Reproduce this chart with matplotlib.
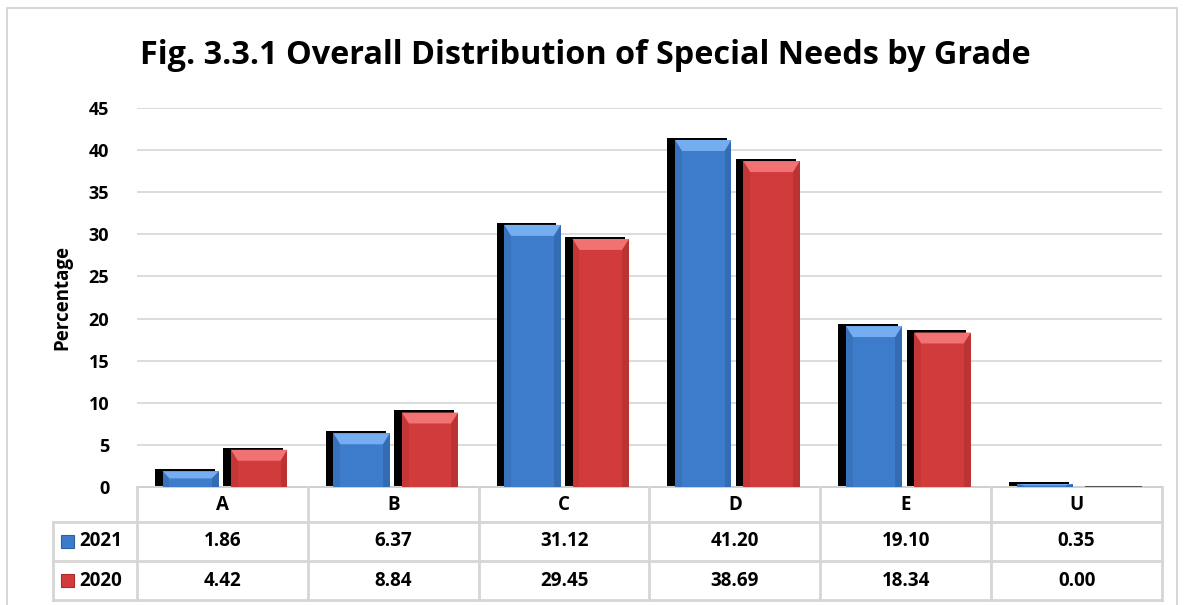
import matplotlib.pyplot as plt
from matplotlib.patches import Rectangle, Polygon

grades = ["A", "B", "C", "D", "E", "U"]
pct_2021 = [1.86, 6.37, 31.12, 41.20, 19.10, 0.35]
pct_2020 = [4.42, 8.84, 29.45, 38.69, 18.34, 0.00]
years = ["2021", "2020"]
yticks = [0, 5, 10, 15, 20, 25, 30, 35, 40, 45]

face = {"2021": "#3d7bcb", "2020": "#d23b3b"}
light = {"2021": "#74aef0", "2020": "#f07272"}
dark = {"2021": "#2d5f9e", "2020": "#a82c2c"}

plt.rcParams['font.family'] = ['Open Sans', 'DejaVu Sans']
plt.rcParams['font.weight'] = 'bold'

fig = plt.figure(figsize=(11.84, 6.05), dpi=100)
fig.patches.append(Rectangle((0.006, -0.01), 0.988, 0.997, transform=fig.transFigure,
                             fill=False, edgecolor="#d0d0d0", lw=1.2))

ax = fig.add_axes([137/1184, 1-487/605, 1025/1184, 379/605])
ax.set_xlim(-0.5, len(grades) - 0.5)
ax.set_ylim(0, 45)
ax.set_yticks(yticks)
ax.tick_params(axis='y', length=0, labelsize=13, pad=20)
ax.set_xticks([])
for s in ["top", "right", "left"]:
    ax.spines[s].set_visible(False)
ax.spines["bottom"].set_color("#d0d0d0")
ax.spines["bottom"].set_linewidth(1.5)
ax.grid(axis='y', color="#d9d9d9", lw=1.3)
ax.set_axisbelow(True)
ax.set_ylabel("Percentage", fontsize=13.5, fontweight='bold', labelpad=12)


def bevel_bar(x0, w, h, year):
    # black shadow to the upper-left
    ax.add_patch(Rectangle((x0 - 0.045, 0), w + 0.02, h + 0.25 if h > 0 else 0.12,
                           facecolor="black", edgecolor="none", zorder=2))
    ax.add_patch(Rectangle((x0, 0), w, h if h > 0 else 0.06, facecolor=face[year] if h > 0 else "#555555",
                           edgecolor="none", zorder=3))
    if h <= 0:
        return
    dx = 0.04
    dy = min(1.3, h * 0.45)
    ax.add_patch(Polygon([(x0, h), (x0 + w, h), (x0 + w - dx, h - dy), (x0 + dx, h - dy)],
                         facecolor=light[year], edgecolor="none", zorder=4))
    ax.add_patch(Polygon([(x0 + w, h), (x0 + w, 0), (x0 + w - dx, 0), (x0 + w - dx, h - dy)],
                         facecolor=dark[year], edgecolor="none", alpha=0.5, zorder=4))
    ax.add_patch(Polygon([(x0, h), (x0, 0), (x0 + dx, 0), (x0 + dx, h - dy)],
                         facecolor=dark[year], edgecolor="none", alpha=0.3, zorder=4))


bw = 0.33
for i in range(len(grades)):
    bevel_bar(i - 0.35, bw, pct_2021[i], "2021")
    bevel_bar(i + 0.05, bw, pct_2020[i], "2020")

ax.set_title("Fig. 3.3.1 Overall Distribution of Special Needs by Grade",
             fontsize=23.3, fontweight='bold', pad=32, x=0.437)

# data table below the axis
tab = fig.add_axes([53/1184, 1-600/605, 1109/1184, 113/605])
left = -0.5 - 84/1025*len(grades)
tab.set_xlim(left, len(grades) - 0.5)
tab.set_ylim(0, 113)
tab.axis("off")
lc = "#d6d6d6"
rows_y = [113, 78, 39, 0]
for yy in rows_y[1:]:
    tab.plot([left, len(grades) - 0.5], [yy, yy], color=lc, lw=2, clip_on=False)
for k in range(len(grades) + 1):
    tab.plot([k - 0.5, k - 0.5], [0, 113], color=lc, lw=2, clip_on=False)
tab.plot([left, left], [0, 78], color=lc, lw=2, clip_on=False)

fs = 13.5
for i, g in enumerate(grades):
    tab.text(i, 95.5, g, ha="center", va="center", fontsize=fs, fontweight="bold")
    tab.text(i, 58.5, f"{pct_2021[i]:.2f}", ha="center", va="center", fontsize=fs, fontweight="bold")
    tab.text(i, 19.5, f"{pct_2020[i]:.2f}", ha="center", va="center", fontsize=fs, fontweight="bold")

unit = len(grades) / 1025
for yy, yr in zip([58.5, 19.5], years):
    tab.add_patch(Rectangle((left + 8*unit, yy - 6.5), 13*unit, 13, facecolor=face[yr],
                            edgecolor=dark[yr], lw=0.8))
    tab.text(left + 26*unit, yy, yr, ha="left", va="center", fontsize=fs, fontweight="bold")

plt.savefig("out.png", dpi=100)
